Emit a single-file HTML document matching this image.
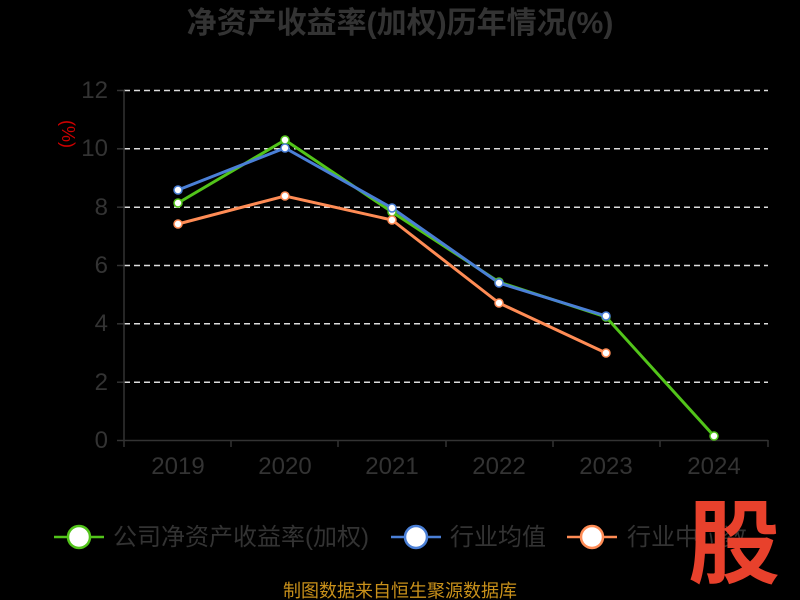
<!DOCTYPE html>
<html><head><meta charset="utf-8"><style>
html,body{margin:0;padding:0;background:#000;}
svg{display:block;font-family:"Liberation Sans","Noto Sans CJK SC",sans-serif;}
</style></head><body>
<svg width="800" height="600" viewBox="0 0 800 600">
<rect width="800" height="600" fill="#000"/>
<text x="400" y="33" text-anchor="middle" font-size="30" font-weight="bold" fill="#333">净资产收益率(加权)历年情况(%)</text>
<text x="70" y="126" font-size="18" fill="#c00" transform="rotate(90 62 126)" text-anchor="middle">(%)</text>
<g stroke="#ddd" stroke-width="1.5" stroke-dasharray="6,4">
<line x1="124" y1="90.5" x2="768" y2="90.5"/>
<line x1="124" y1="148.8" x2="768" y2="148.8"/>
<line x1="124" y1="207.2" x2="768" y2="207.2"/>
<line x1="124" y1="265.5" x2="768" y2="265.5"/>
<line x1="124" y1="323.8" x2="768" y2="323.8"/>
<line x1="124" y1="382.2" x2="768" y2="382.2"/>
</g>
<g stroke="#333" stroke-width="1.5">
<line x1="124" y1="90" x2="124" y2="440"/>
<line x1="124" y1="440.5" x2="768" y2="440.5"/>
<line x1="117" y1="90.5" x2="124" y2="90.5"/><line x1="117" y1="148.8" x2="124" y2="148.8"/>
<line x1="117" y1="207.2" x2="124" y2="207.2"/><line x1="117" y1="265.5" x2="124" y2="265.5"/>
<line x1="117" y1="323.8" x2="124" y2="323.8"/><line x1="117" y1="382.2" x2="124" y2="382.2"/>
<line x1="117" y1="440.5" x2="124" y2="440.5"/>
<line x1="124" y1="440" x2="124" y2="447"/><line x1="231" y1="440" x2="231" y2="447"/>
<line x1="338" y1="440" x2="338" y2="447"/><line x1="446" y1="440" x2="446" y2="447"/>
<line x1="553" y1="440" x2="553" y2="447"/><line x1="660" y1="440" x2="660" y2="447"/>
<line x1="768" y1="440" x2="768" y2="447"/>
</g>
<g font-size="24" fill="#333" text-anchor="end">
<text x="108" y="98">12</text><text x="108" y="156">10</text><text x="108" y="215">8</text>
<text x="108" y="273">6</text><text x="108" y="331">4</text><text x="108" y="390">2</text><text x="108" y="448">0</text>
</g>
<g font-size="24" fill="#333" text-anchor="middle">
<text x="178" y="474">2019</text><text x="285" y="474">2020</text><text x="392" y="474">2021</text>
<text x="499" y="474">2022</text><text x="606" y="474">2023</text><text x="714" y="474">2024</text>
</g>
<polyline fill="none" stroke="#52c41a" stroke-width="3" points="178,203 285,140 392,212 499,282 606,317 714,436"/>
<polyline fill="none" stroke="#4a7fd6" stroke-width="3" points="178,190 285,148 392,208 499,283 606,316"/>
<polyline fill="none" stroke="#ff8c55" stroke-width="3" points="178,224 285,196 392,220 499,303 606,353"/>
<g fill="#fff" stroke-width="1.5">
<g stroke="#52c41a"><circle cx="178" cy="203" r="4"/><circle cx="285" cy="140" r="4"/><circle cx="392" cy="212" r="4"/><circle cx="499" cy="282" r="4"/><circle cx="606" cy="317" r="4"/><circle cx="714" cy="436" r="4"/></g>
<g stroke="#4a7fd6"><circle cx="178" cy="190" r="4"/><circle cx="285" cy="148" r="4"/><circle cx="392" cy="208" r="4"/><circle cx="499" cy="283" r="4"/><circle cx="606" cy="316" r="4"/></g>
<g stroke="#ff8c55"><circle cx="178" cy="224" r="4"/><circle cx="285" cy="196" r="4"/><circle cx="392" cy="220" r="4"/><circle cx="499" cy="303" r="4"/><circle cx="606" cy="353" r="4"/></g>
</g>
<g stroke-width="2.5">
<line x1="54" y1="537" x2="104" y2="537" stroke="#52c41a"/><ellipse cx="79" cy="537" rx="11" ry="11" fill="#fff" stroke="#52c41a"/>
<line x1="391" y1="537" x2="441" y2="537" stroke="#4a7fd6"/><ellipse cx="416" cy="537" rx="11" ry="11" fill="#fff" stroke="#4a7fd6"/>
<line x1="567" y1="537" x2="617" y2="537" stroke="#ff8c55"/><ellipse cx="592" cy="537" rx="11" ry="11" fill="#fff" stroke="#ff8c55"/>
</g>
<g font-size="24" fill="#333">
<text x="113" y="545">公司净资产收益率(加权)</text>
<text x="450" y="545">行业均值</text>
<text x="627" y="545">行业中位数</text>
</g>
<text x="734" y="576" text-anchor="middle" font-size="92" font-weight="bold" fill="#e8412c">股</text>
<text x="400" y="597" text-anchor="middle" font-size="18" fill="#c8901a">制图数据来自恒生聚源数据库</text>
</svg>
</body></html>
